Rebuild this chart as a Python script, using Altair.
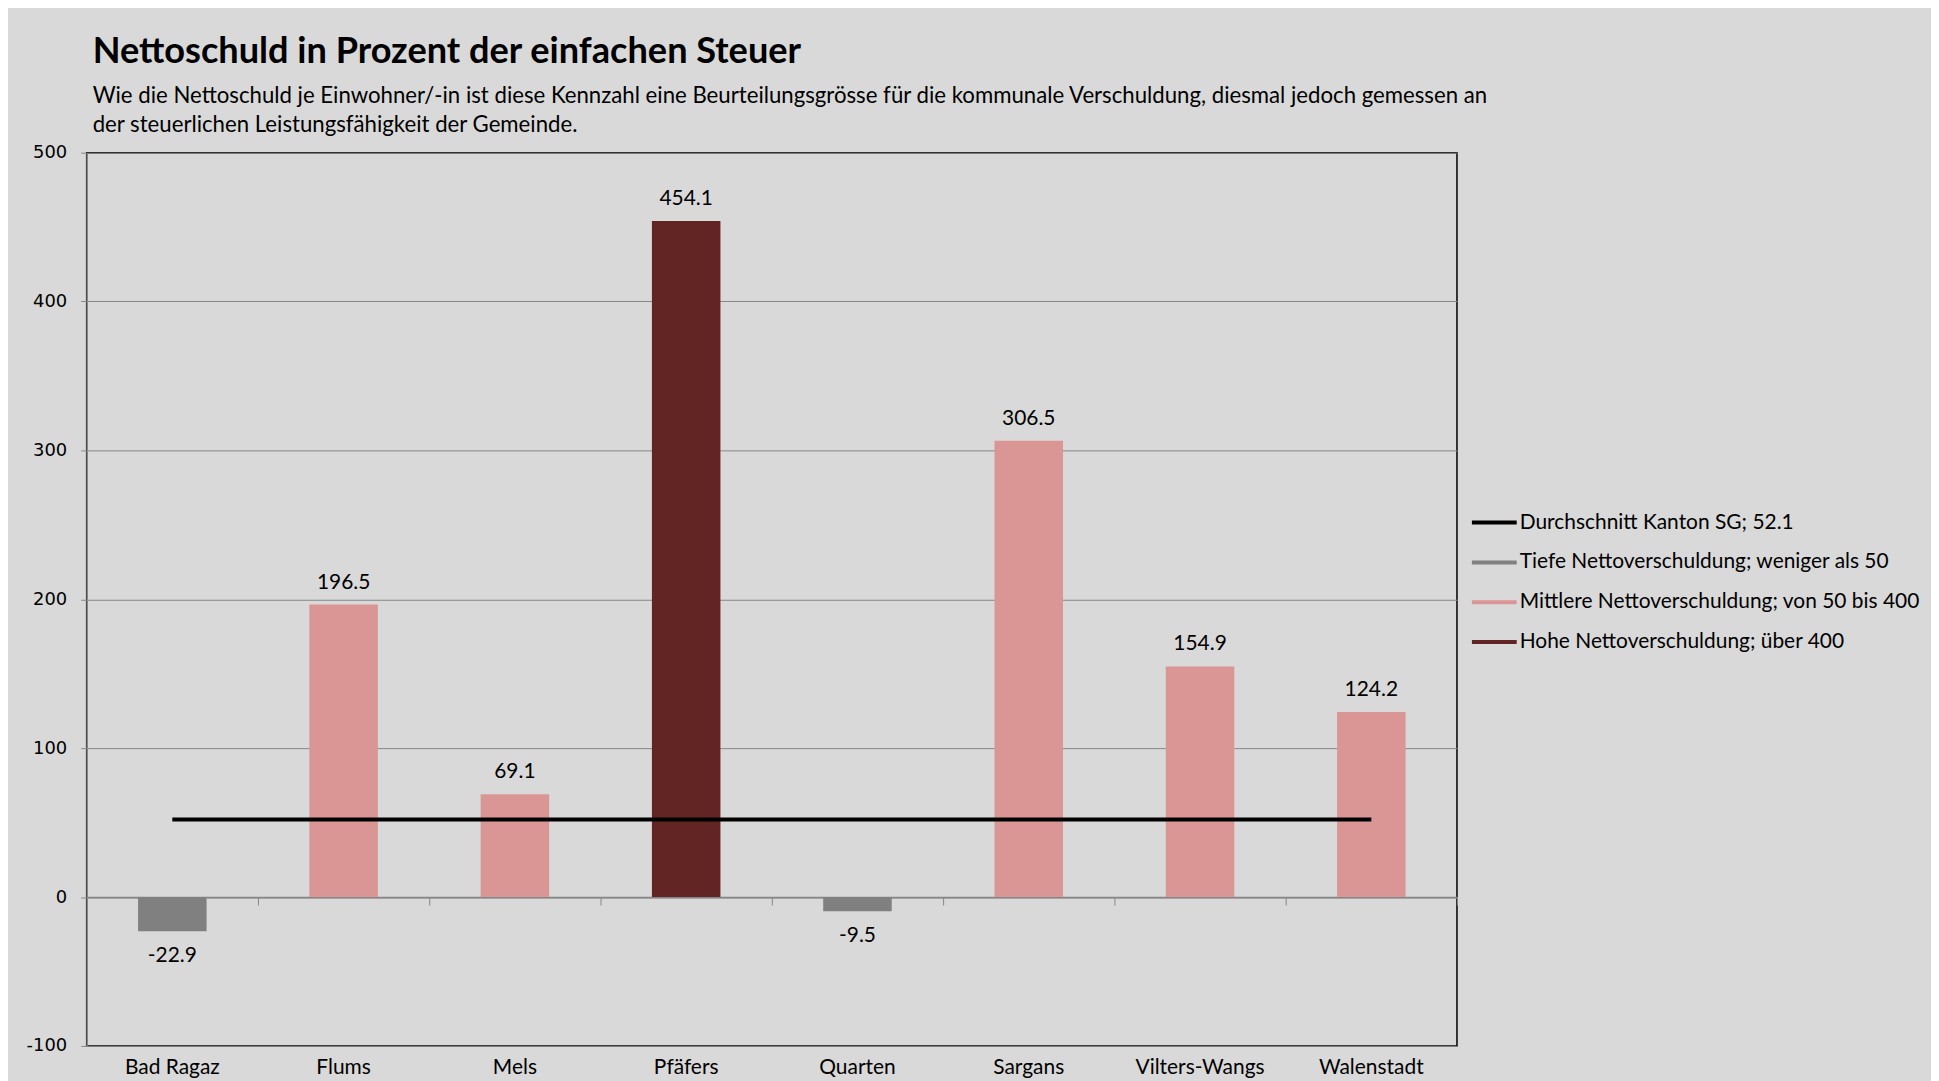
import altair as alt
import pandas as pd

# ---- data ----
gemeinden = ["Bad Ragaz", "Flums", "Mels", "Pfäfers", "Quarten", "Sargans", "Vilters-Wangs", "Walenstadt"]
werte = [-22.9, 196.5, 69.1, 454.1, -9.5, 306.5, 154.9, 124.2]
klassen = [
    "Tiefe Nettoverschuldung; weniger als 50",
    "Mittlere Nettoverschuldung; von 50 bis 400",
    "Mittlere Nettoverschuldung; von 50 bis 400",
    "Hohe Nettoverschuldung; über 400",
    "Tiefe Nettoverschuldung; weniger als 50",
    "Mittlere Nettoverschuldung; von 50 bis 400",
    "Mittlere Nettoverschuldung; von 50 bis 400",
    "Mittlere Nettoverschuldung; von 50 bis 400",
]
durchschnitt = 52.1
durchschnitt_label = "Durchschnitt Kanton SG; 52.1"

legend_labels = [
    "Durchschnitt Kanton SG; 52.1",
    "Tiefe Nettoverschuldung; weniger als 50",
    "Mittlere Nettoverschuldung; von 50 bis 400",
    "Hohe Nettoverschuldung; über 400",
]
legend_colors = ["#000000", "#808080", "#d99694", "#632523"]

y_ticks = [-100, 0, 100, 200, 300, 400, 500]

title_text = "Nettoschuld in Prozent der einfachen Steuer"
subtitle_lines = [
    "Wie die Nettoschuld je Einwohner/-in ist diese Kennzahl eine Beurteilungsgrösse für die kommunale Verschuldung, diesmal jedoch gemessen an",
    "der  steuerlichen Leistungsfähigkeit der Gemeinde.",
]

df = pd.DataFrame({"Gemeinde": gemeinden, "Wert": werte, "Klasse": klassen})
df_avg = pd.DataFrame({
    "Gemeinde": gemeinden,
    "Durchschnitt": [durchschnitt] * len(gemeinden),
    "Serie": [durchschnitt_label] * len(gemeinden),
})

# ---- layout ----
W, H = 1376, 897
FONT = "Lato"
GRID = "#868686"
STEP = W / len(gemeinden)

x_scale = alt.Scale(domain=gemeinden, paddingInner=0.6, paddingOuter=0.3)
y_scale = alt.Scale(domain=[-100, 500], nice=False, zero=False)
color_scale = alt.Scale(domain=legend_labels, range=legend_colors)

y_axis = alt.Axis(
    values=y_ticks, title=None, grid=True, gridColor=GRID, gridWidth=1,
    domain=True, domainColor=GRID, domainWidth=1.5,
    ticks=True, tickColor=GRID, tickSize=6,
    labelFont="DejaVu Sans", labelFontSize=18, labelColor="#000000", labelPadding=14,
    labelExpr="replace(datum.label, '\u2212', '-')",
)

x_axis_labels = alt.Axis(
    title=None, labelAngle=0, ticks=False, domain=False, grid=False, orient="bottom",
    labelFont=FONT, labelFontSize=21, labelColor="#000000", labelPadding=11,
)

x_axis_zero = alt.Axis(
    title=None, labels=False, ticks=True, bandPosition=0.5, tickOffset=STEP / 2,
    tickSize=8, orient="bottom",
    tickColor=GRID, tickWidth=1, domain=True, domainColor=GRID, domainWidth=1.5,
    grid=False, offset=-(H * 100 / 600),
)

bars = alt.Chart(df).mark_bar().encode(
    x=alt.X("Gemeinde:N", scale=x_scale, axis=x_axis_labels, sort=gemeinden),
    y=alt.Y("Wert:Q", scale=y_scale, axis=y_axis),
    color=alt.Color("Klasse:N", scale=color_scale, legend=None),
)

label_calc = "replace(format(datum.Wert, '.1f'), '\u2212', '-')"

labels_pos = alt.Chart(df).transform_filter("datum.Wert >= 0").transform_calculate(
    Label=label_calc
).mark_text(
    baseline="middle", dy=-22, font=FONT, fontSize=21, color="#000000"
).encode(
    x=alt.X("Gemeinde:N", scale=x_scale, axis=None, sort=gemeinden),
    y=alt.Y("Wert:Q", scale=y_scale, axis=y_axis),
    text="Label:N",
)

labels_neg = alt.Chart(df).transform_filter("datum.Wert < 0").transform_calculate(
    Label=label_calc
).mark_text(
    baseline="middle", dy=25, font=FONT, fontSize=21, color="#000000"
).encode(
    x=alt.X("Gemeinde:N", scale=x_scale, axis=None, sort=gemeinden),
    y=alt.Y("Wert:Q", scale=y_scale, axis=y_axis),
    text="Label:N",
)

line = alt.Chart(df_avg).mark_line(strokeWidth=4).encode(
    x=alt.X("Gemeinde:N", scale=x_scale, axis=x_axis_zero, sort=gemeinden),
    y=alt.Y("Durchschnitt:Q", scale=y_scale, axis=y_axis),
    color=alt.Color(
        "Serie:N", scale=color_scale,
        legend=alt.Legend(
            title=None, orient="none", legendX=1389, legendY=347,
            symbolType="stroke", symbolStrokeWidth=4, symbolSize=2025,
            labelFont=FONT, labelFontSize=21, labelColor="#000000",
            labelOffset=1, labelLimit=600, padding=0, rowPadding=5,
        ),
    ),
)

chart = alt.layer(bars, labels_pos, labels_neg, line).resolve_axis(
    x="independent"
).resolve_scale(
    color="independent"
).properties(
    width=W, height=H,
    title=alt.Title(
        title_text, subtitle=subtitle_lines, anchor="start", frame="group",
        dx=6, offset=7.5, font=FONT, fontSize=36.3, fontWeight="bold", color="#000000",
        subtitleFont=FONT, subtitleFontSize=22.3, subtitleColor="#000000",
        subtitleLineHeight=29, subtitlePadding=14.5,
    ),
    autosize=alt.AutoSizeParams(type="none"),
    padding={"left": 79, "top": 143, "right": 476, "bottom": 33},
    background="#d9d9d9",
).configure_view(
    stroke="#000000", strokeWidth=1.5
)

chart.save("out.html", embed_options={"renderer": "svg", "actions": False})
